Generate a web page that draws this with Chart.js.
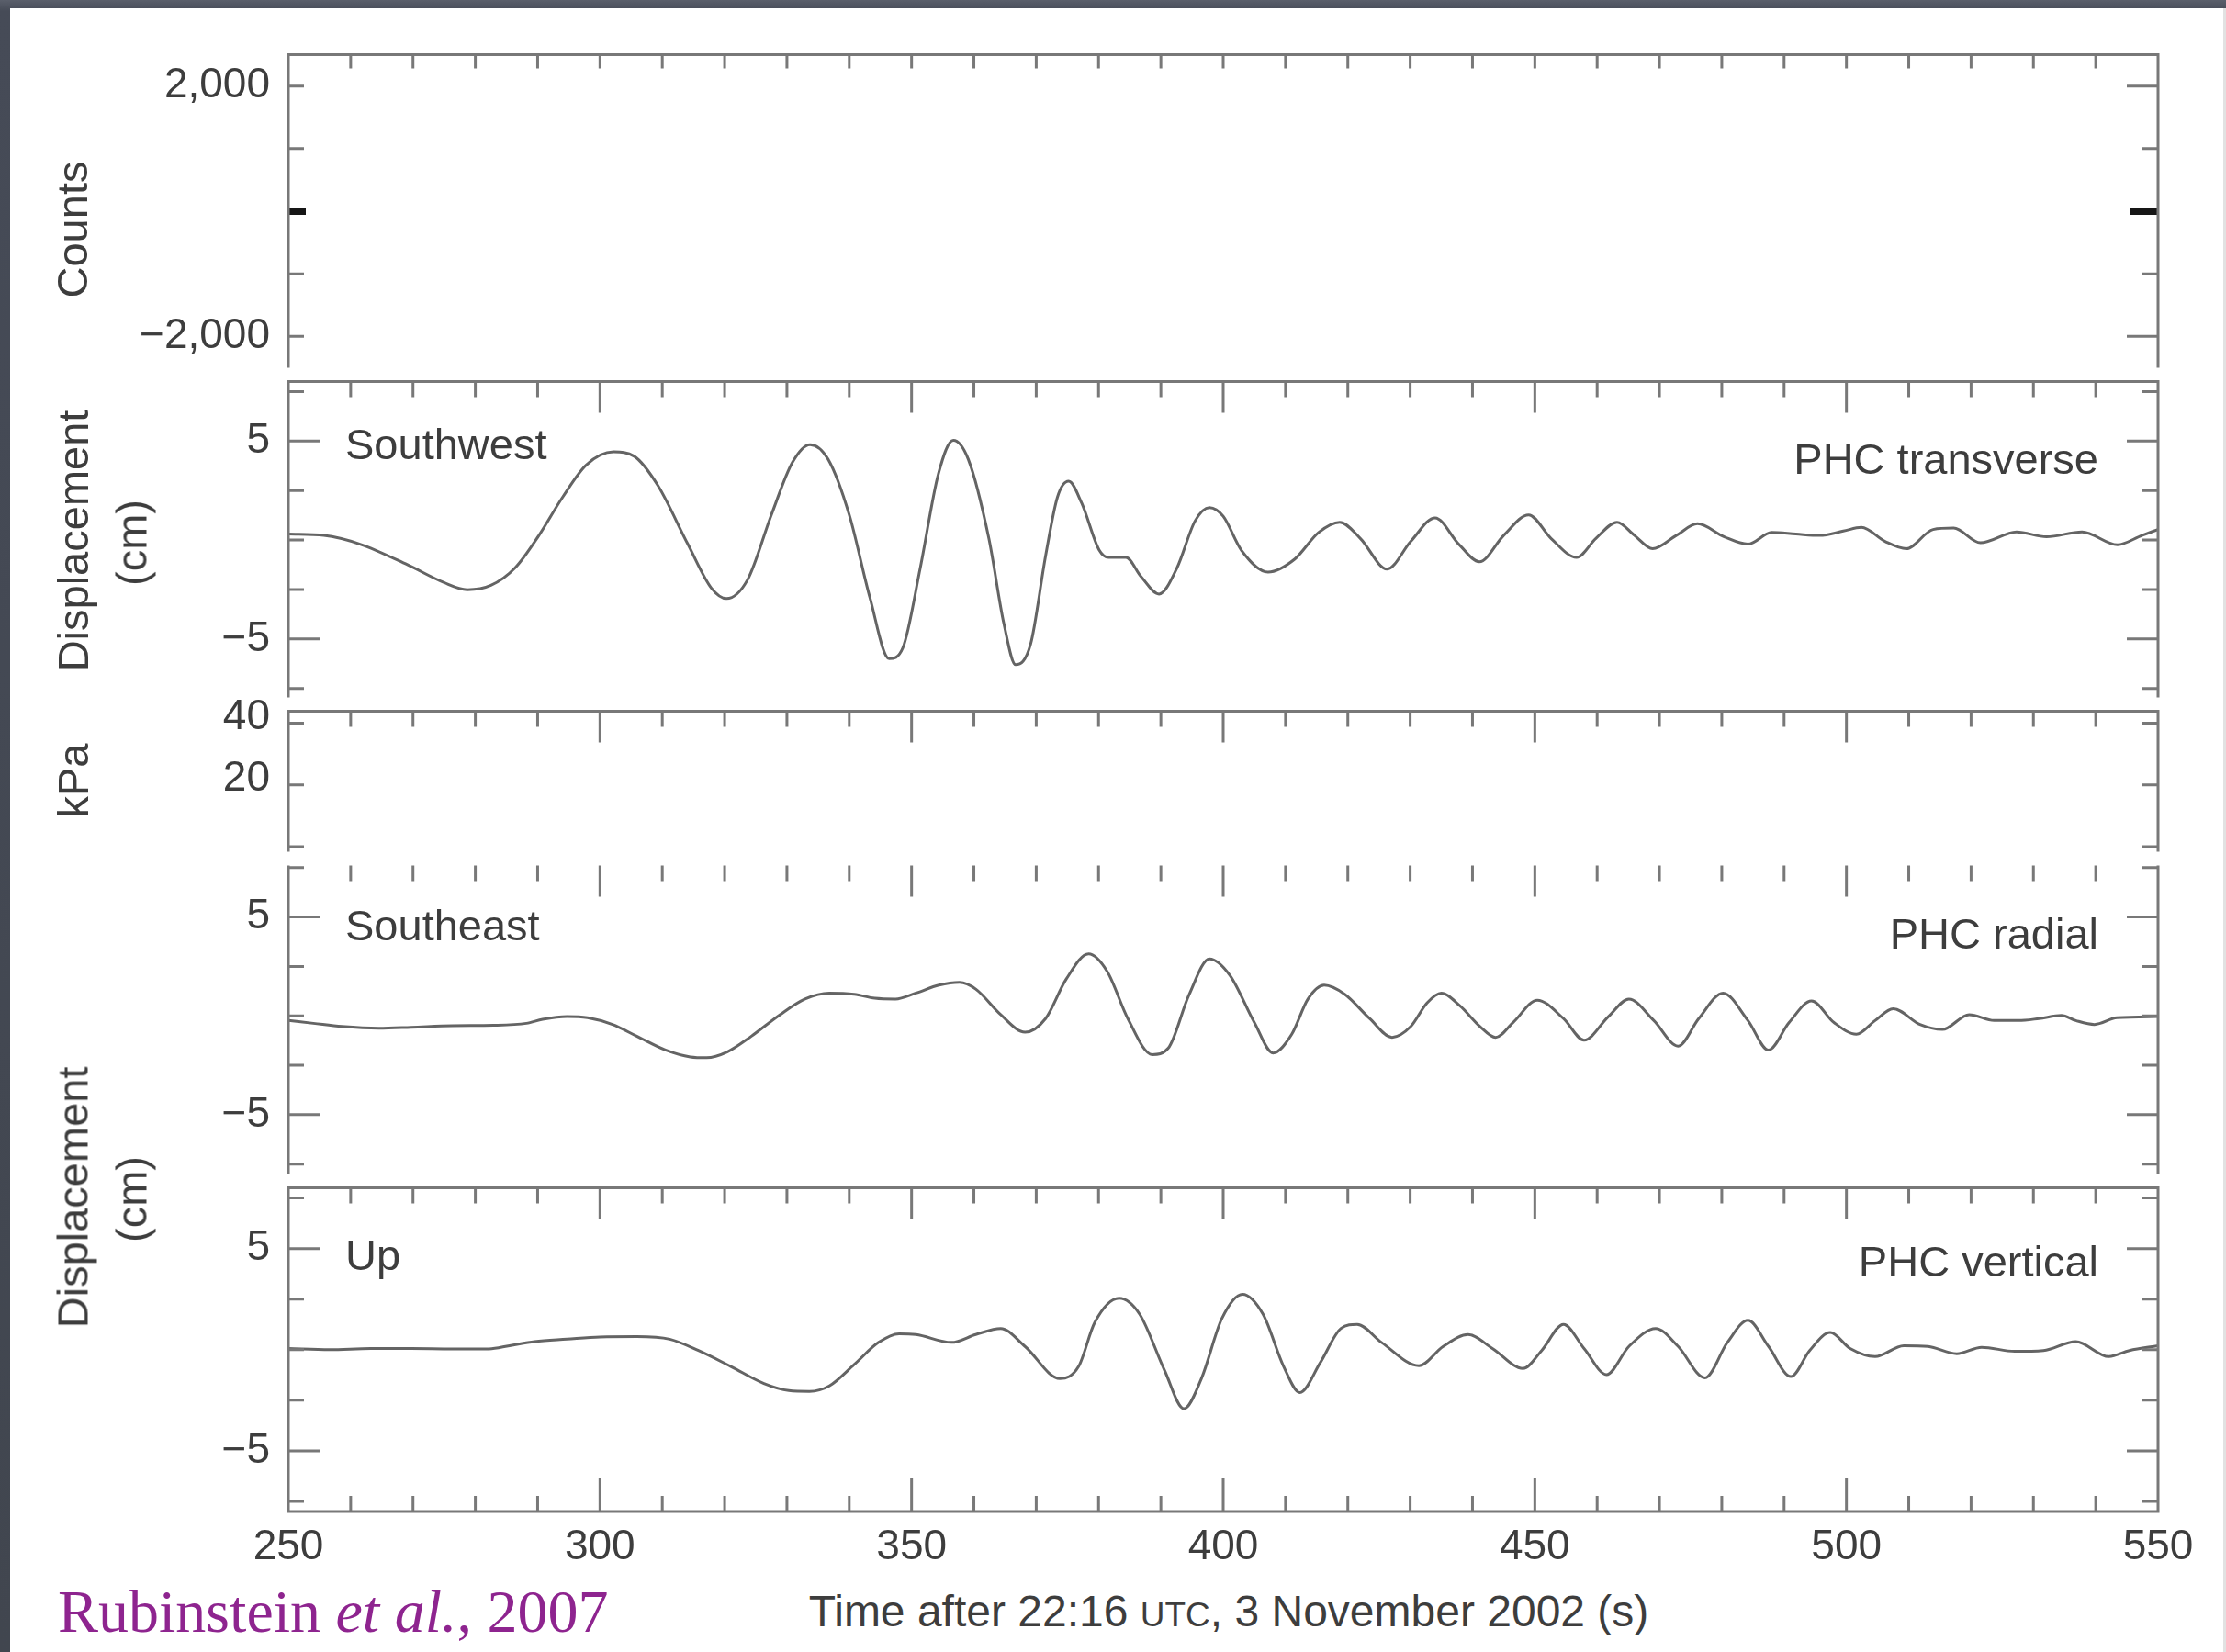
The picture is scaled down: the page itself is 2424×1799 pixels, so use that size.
<!DOCTYPE html>
<html>
<head>
<meta charset="utf-8">
<title>Displacement records, 3 November 2002</title>
<script src="https://cdn.jsdelivr.net/npm/chart.js@4.4.1/dist/chart.umd.min.js"></script>
<style>
  html, body { margin: 0; padding: 0; }
  body {
    width: 2424px; height: 1799px; position: relative; overflow: hidden;
    background: linear-gradient(to bottom, #5a5f6b 0px, #464b57 12px, #41464f 100%);
    font-family: "Liberation Sans", Arial, sans-serif;
  }
  #sheet {
    position: absolute; left: 11px; top: 9px; right: 0; bottom: 0; background: #fff;
    border-right: 3px solid #e2e2e2;
  }
  canvas { position: absolute; left: 0; }
  .ytitle {
    position: absolute; white-space: nowrap; font-size: 47px; line-height: 1; color: #3d3d3d;
    transform: translate(-50%, -50%) rotate(-90deg);
  }
  #xtitle {
    position: absolute; left: 1338px; top: 1731px; transform: translateX(-50%);
    white-space: nowrap; font-size: 48px; line-height: 1; color: #3d3d3d;
  }
  #xtitle .sc { font-size: 37px; }
  #cite {
    position: absolute; left: 63px; top: 1722px; white-space: nowrap;
    font-family: "Liberation Serif", "Times New Roman", serif; font-size: 66px; line-height: 1;
    color: #8e248f;
  }
</style>
</head>
<body>
<div id="sheet"></div>
<canvas id="counts"></canvas>
<canvas id="southwest"></canvas>
<canvas id="pressure"></canvas>
<canvas id="southeast"></canvas>
<canvas id="up"></canvas>

<div class="ytitle" style="left:78px; top:250px;">Counts</div>
<div class="ytitle" style="left:79px; top:589px;">Displacement</div>
<div class="ytitle" style="left:143px; top:591px;">(cm)</div>
<div class="ytitle" style="left:79px; top:850px;">kPa</div>
<div class="ytitle" style="left:79px; top:1304px;">Displacement</div>
<div class="ytitle" style="left:143px; top:1306px;">(cm)</div>
<div id="xtitle">Time after 22:16 <span class="sc">UTC</span>, 3 November 2002 (s)</div>
<div id="cite">Rubinstein <i>et al.</i>, 2007</div>

<script>
// time axis (s after 22:16 UTC)
const timeMin = 250;
const timeMax = 550;
const timeLabels = [250, 300, 350, 400, 450, 500, 550];
const timeMinorStep = 10;

// seismometer counts: only the short stubs at zero are visible
const countsTime = [250, 252.8, 400, 545.5, 550];
const countsValue = [0, 0, null, 0, 0];
const countsLabels = [-2000, 2000];
const countsMinor = [-1000, 1000];

// pressure panel (empty)
const kpaLabels = [20, 40];
const kpaMinor = [0, 20, 40];

// displacement panels share the same ticks
const dispLabels = [-5, 5];
const dispMinor = [-7.5, -2.5, 0, 2.5, 7.5];

// PHC transverse (Southwest), cm
const swTime = [250, 255.7, 261.5, 269.1, 274.9, 278.7, 282.5, 286.4, 290.2, 294, 297.8, 302.2, 305.5, 309.3,
  314.1, 317.9, 320.3, 323.7, 327.5, 330.9, 333.7, 336.6, 340, 343.3, 346.4, 348.6, 351.4, 354.3, 356.7, 359.1,
  362.4, 364.8, 366.7, 369.1, 371.5, 373.4, 375.2, 377.3, 380.1, 381.6, 384.4, 386.8, 389.7, 392.6, 395.5, 397.8,
  400, 402.9, 407.2, 411.5, 415.3, 418.7, 422, 426.3, 430.1, 434, 437.8, 441.1, 445, 449, 452.6, 456.7, 459.8,
  463.2, 466, 468.9, 472.7, 476.1, 480.4, 484.2, 488, 491.9, 495.7, 499.5, 502.4, 506.2, 509.6, 513.9, 517.2,
  521.5, 527.3, 532.1, 537.8, 543.5, 547.4, 550];
const swDisp = [0.3, 0.23, -0.21, -1.25, -2.14, -2.51, -2.29, -1.4, 0.23, 2.16, 3.79, 4.45, 4.23, 2.75,
  -0.21, -2.44, -2.96, -2.0, 1.27, 3.93, 4.82, 4.08, 1.27, -2.89, -6.0, -5.45, -1.4, 3.34, 5.04, 4.08,
  0.08, -4.21, -6.3, -5.26, -0.81, 2.16, 2.97, 1.86, -0.51, -0.88, -0.88, -1.84, -2.73, -1.4, 0.97, 1.64,
  1.2, -0.51, -1.62, -0.96, 0.38, 0.9, 0.08, -1.47, -0.07, 1.12, -0.21, -1.1, 0.23, 1.27, 0.08, -0.88, 0.08,
  0.9, 0.23, -0.44, 0.23, 0.82, 0.16, -0.21, 0.38, 0.3, 0.23, 0.45, 0.64, -0.07, -0.44, 0.53, 0.6,
  -0.14, 0.41, 0.16, 0.41, -0.24, 0.23, 0.53];

// PHC radial (Southeast), cm
const seTime = [250, 254, 258.6, 264.5, 269.7, 276.3, 282.9, 288.2, 290.8, 294.7, 298, 302, 305.9, 310.5,
  314.5, 317.1, 320.4, 324.3, 328.9, 332.9, 336.8, 340.8, 344.1, 347.4, 350.7, 354.4, 357.7, 360.3, 364.3,
  368.2, 371.5, 374.8, 378.4, 381.4, 384.7, 388.6, 391.2, 394.5, 397.8, 401.1, 405, 408, 411, 413.6, 416.2,
  419.5, 423.5, 427.1, 430.1, 432.7, 435, 438, 441.2, 443.7, 446.5, 450.4, 454.6, 457.9, 461.8, 465.1, 469.1,
  473, 476.3, 480.2, 484.2, 487.5, 490.8, 494.4, 498, 501.6, 504.6, 507.5, 511.8, 515.4, 519.7, 523.7, 527.6,
  530.9, 534.5, 536.8, 539.8, 543.4, 550];
const seDisp = [-0.24, -0.38, -0.54, -0.63, -0.58, -0.5, -0.48, -0.38, -0.18, -0.04, -0.1, -0.44, -1.03, -1.73,
  -2.08, -2.12, -1.83, -1.03, 0.06, 0.85, 1.15, 1.09, 0.89, 0.85, 1.15, 1.55, 1.69, 1.35, 0.06,
  -0.83, -0.14, 1.85, 3.13, 2.24, -0.14, -1.96, -1.63, 1.05, 2.88, 2.04, -0.34, -1.88, -0.93, 0.85, 1.55,
  1.09, -0.14, -1.09, -0.54, 0.65, 1.15, 0.5, -0.54, -1.09, -0.34, 0.79, -0.14, -1.23, -0.04, 0.85, -0.24,
  -1.53, -0.14, 1.15, -0.24, -1.73, -0.34, 0.75, -0.34, -0.93, -0.24, 0.36, -0.44, -0.69, 0.06, -0.24, -0.24,
  -0.14, 0.02, -0.24, -0.44, -0.1, -0.04];

// PHC vertical (Up), cm
const upTime = [250, 256.6, 263.2, 269.7, 276.3, 282.2, 285.5, 289.5, 294.7, 300, 305.9, 311.2, 315.8, 321,
  326.3, 330.3, 333.6, 336.8, 340.8, 344.7, 348, 350.7, 356.4, 360.3, 364.3, 368.2, 373.8, 376.8, 379.4,
  383.3, 386.6, 390.6, 393.7, 396.5, 399.8, 403.1, 406.4, 409.7, 412.3, 415.6, 418.9, 421.5, 425.4, 431.4,
  435.3, 439.3, 443.2, 448.1, 451.1, 454.6, 457.9, 461.5, 465.1, 469.4, 473, 477.3, 480.9, 484.2, 487.5,
  491.1, 494.1, 497.4, 500.6, 504.6, 509.2, 513.1, 517.7, 521.7, 527, 531.6, 536.8, 542.1, 545.4, 550];
const upDisp = [0.06, 0, 0.06, 0.06, 0.04, 0.04, 0.2, 0.4, 0.52, 0.63, 0.65, 0.52, -0.04, -0.83,
  -1.67, -2.02, -2.06, -1.79, -0.73, 0.36, 0.79, 0.75, 0.36, 0.75, 1.05, 0.16, -1.43, -0.83, 1.35,
  2.54, 1.75, -1.03, -2.92, -1.43, 1.55, 2.74, 1.75, -0.83, -2.12, -0.63, 1.05, 1.25, 0.36, -0.79,
  0.16, 0.75, 0.06, -0.93, -0.04, 1.25, 0.06, -1.23, 0.16, 1.05, 0.16, -1.39, 0.36, 1.45, 0.16,
  -1.33, -0.04, 0.85, 0.06, -0.34, 0.2, 0.16, -0.2, 0.12, -0.08, -0.04, 0.4, -0.34, -0.04, 0.2];

const textColor = "#3d3d3d";
const axisColor = "#787878";
const traceColor = "#646464";

Chart.defaults.font.family = '"Liberation Sans", Arial, sans-serif';
Chart.defaults.font.size = 46;
Chart.defaults.color = textColor;

const fmtTick = (v) => (v < 0 ? "\u2212" : "") + Math.abs(v).toLocaleString("en-US");

const toPoints = (xs, ys) => xs.map((x, i) => ({ x: x, y: ys[i] }));

// box lines, inward ticks and the station labels of each panel
const panelFrame = {
  id: "panelFrame",
  afterDatasetsDraw(chart, args, opts) {
    const { ctx, chartArea: a } = chart;
    const xs = chart.scales.x;
    const ys = chart.scales.y;
    const minorLen = 17;
    const majorLen = 34;
    ctx.save();
    ctx.strokeStyle = axisColor;
    ctx.lineWidth = 3;
    ctx.beginPath();
    ctx.moveTo(a.left, a.top);
    ctx.lineTo(a.left, a.bottom);
    ctx.moveTo(a.right, a.top);
    ctx.lineTo(a.right, a.bottom);
    if (opts.topLine) {
      ctx.moveTo(a.left - 1.5, a.top);
      ctx.lineTo(a.right + 1.5, a.top);
    }
    if (opts.bottomLine) {
      ctx.moveTo(a.left - 1.5, a.bottom);
      ctx.lineTo(a.right + 1.5, a.bottom);
    }
    for (let t = timeMin; t <= timeMax; t += timeMinorStep) {
      const px = xs.getPixelForValue(t);
      const major = timeLabels.includes(t);
      if (opts.topTicks) {
        const len = opts.topMinorOnly ? 15 : (major ? majorLen : minorLen);
        ctx.moveTo(px, a.top);
        ctx.lineTo(px, a.top + len);
      }
      if (opts.bottomTicks) {
        const len = major ? 37 : minorLen;
        ctx.moveTo(px, a.bottom);
        ctx.lineTo(px, a.bottom - len);
      }
    }
    (opts.yMajor || []).forEach((v) => {
      const py = ys.getPixelForValue(v);
      const leftLen = opts.leftMajorShort ? minorLen : majorLen;
      ctx.moveTo(a.left, py);
      ctx.lineTo(a.left + leftLen, py);
      ctx.moveTo(a.right, py);
      ctx.lineTo(a.right - majorLen, py);
    });
    (opts.yMinor || []).forEach((v) => {
      const py = ys.getPixelForValue(v);
      ctx.moveTo(a.left, py);
      ctx.lineTo(a.left + minorLen, py);
      ctx.moveTo(a.right, py);
      ctx.lineTo(a.right - minorLen, py);
    });
    ctx.stroke();

    ctx.fillStyle = textColor;
    ctx.font = '47px "Liberation Sans", Arial, sans-serif';
    ctx.textBaseline = "alphabetic";
    if (opts.leftLabel) {
      ctx.textAlign = "left";
      ctx.fillText(opts.leftLabel, a.left + 62, a.top + opts.leftDy);
    }
    if (opts.rightLabel) {
      ctx.textAlign = "right";
      ctx.fillText(opts.rightLabel, a.right - 65, a.top + opts.rightDy);
    }
    ctx.restore();
  },
};

function makePanel(id, cfg) {
  const canvas = document.getElementById(id);
  const padTop = 40;
  const xHeight = 74;
  const padBottom = cfg.showTime ? 0 : 40;
  canvas.width = 2424;
  canvas.height = padTop + (cfg.bottom - cfg.top) + (cfg.showTime ? xHeight : padBottom);
  canvas.style.top = cfg.top - padTop + "px";

  return new Chart(canvas, {
    type: "line",
    data: { datasets: cfg.datasets },
    options: {
      responsive: false,
      animation: false,
      devicePixelRatio: 1,
      layout: { padding: { left: 0, right: 74, top: padTop, bottom: padBottom } },
      plugins: {
        legend: { display: false },
        tooltip: { enabled: false },
        panelFrame: cfg.frame,
      },
      elements: { point: { radius: 0 } },
      scales: {
        x: {
          type: "linear",
          min: timeMin,
          max: timeMax,
          display: !!cfg.showTime,
          grid: { display: false, drawTicks: false },
          border: { display: false },
          afterBuildTicks: (s) => {
            s.ticks = timeLabels.map((v) => ({ value: v }));
          },
          afterFit: (s) => {
            if (cfg.showTime) s.height = xHeight;
          },
          ticks: { padding: 12, maxRotation: 0, autoSkip: false, color: textColor },
        },
        y: {
          type: "linear",
          position: "left",
          min: cfg.min,
          max: cfg.max,
          grid: { display: false, drawTicks: false },
          border: { display: false },
          afterBuildTicks: (s) => {
            s.ticks = cfg.yLabels.map((v) => ({ value: v }));
          },
          afterFit: (s) => {
            s.width = 314;
          },
          ticks: {
            padding: 20,
            color: textColor,
            labelOffset: cfg.labelOffset || 0,
            callback: (v) => fmtTick(v),
          },
        },
      },
    },
    plugins: [panelFrame],
  });
}

const traceStyle = {
  borderColor: traceColor,
  borderWidth: 3,
  pointRadius: 0,
  cubicInterpolationMode: "monotone",
  fill: false,
};

makePanel("counts", {
  top: 52, bottom: 408, min: -2500, max: 2500,
  yLabels: countsLabels,
  datasets: [{
    label: "Counts",
    data: toPoints(countsTime, countsValue),
    borderColor: "#161616",
    borderWidth: 8,
    pointRadius: 0,
    spanGaps: false,
  }],
  frame: {
    topLine: true, topTicks: true, topMinorOnly: true,
    yMajor: countsLabels, yMinor: countsMinor, leftMajorShort: true,
  },
});

makePanel("southwest", {
  top: 408, bottom: 767, min: -7.95, max: 8,
  yLabels: dispLabels,
  datasets: [Object.assign({ label: "PHC transverse", data: toPoints(swTime, swDisp) }, traceStyle)],
  frame: {
    topLine: true, topTicks: true,
    yMajor: dispLabels, yMinor: dispMinor,
    leftLabel: "Southwest", leftDy: 84,
    rightLabel: "PHC transverse", rightDy: 100,
  },
});

makePanel("pressure", {
  top: 767, bottom: 935, min: -1.6, max: 43.8,
  yLabels: kpaLabels,
  labelOffset: -6,
  datasets: [],
  frame: { topLine: true, topTicks: true, yMinor: kpaMinor },
});

makePanel("southeast", {
  top: 935, bottom: 1286, min: -8, max: 7.6,
  yLabels: dispLabels,
  datasets: [Object.assign({ label: "PHC radial", data: toPoints(seTime, seDisp) }, traceStyle)],
  frame: {
    topLine: false, topTicks: true,
    yMajor: dispLabels, yMinor: dispMinor,
    leftLabel: "Southeast", leftDy: 81,
    rightLabel: "PHC radial", rightDy: 90,
  },
});

makePanel("up", {
  top: 1286, bottom: 1646, min: -8, max: 8,
  yLabels: dispLabels,
  showTime: true,
  datasets: [Object.assign({ label: "PHC vertical", data: toPoints(upTime, upDisp) }, traceStyle)],
  frame: {
    topLine: true, topTicks: true, bottomLine: true, bottomTicks: true,
    yMajor: dispLabels, yMinor: dispMinor,
    leftLabel: "Up", leftDy: 89,
    rightLabel: "PHC vertical", rightDy: 96,
  },
});
</script>
</body>
</html>
